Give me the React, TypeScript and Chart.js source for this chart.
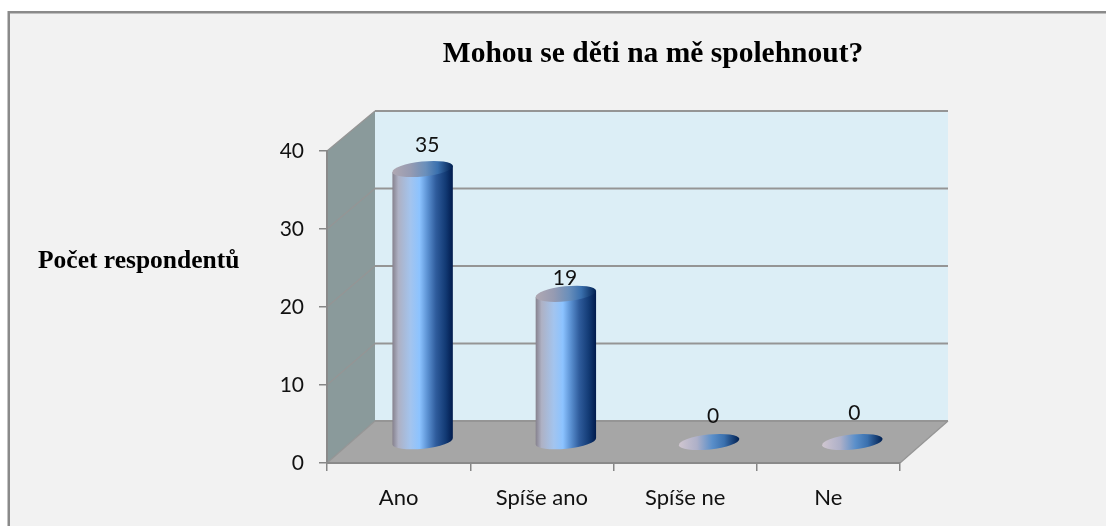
import React, { useEffect, useRef } from "react";
import { Chart, registerables } from "chart.js";

Chart.register(...registerables);

const categories = ["Ano", "Spíše ano", "Spíše ne", "Ne"];
const respondents = [35, 19, 0, 0];
const yTicks = [0, 10, 20, 30, 40];
const chartTitle = "Mohou se děti na mě spolehnout?";
const yAxisTitle = "Počet respondentů";

const DEPTH_X = 48;
const DEPTH_Y = 42;
const BACK_SCALE = 310 / 312;
const ROT = (-6 * Math.PI) / 180;
const RY = 7.5;
const labelNudgeX = [4.5, -1, 4, 2];
const labelNudgeY = [-24, -16, -26, -29];
const SANS = "Lato, 'Open Sans', sans-serif";
const SERIF = "'Liberation Serif', serif";

function bodyGradient(ctx: CanvasRenderingContext2D, l: number, r: number) {
  const g = ctx.createLinearGradient(l, 0, r, 0);
  g.addColorStop(0, "#85808c");
  g.addColorStop(0.1, "#aeb1c4");
  g.addColorStop(0.3, "#a3c4ee");
  g.addColorStop(0.45, "#8cc3ff");
  g.addColorStop(0.58, "#5b91d2");
  g.addColorStop(0.72, "#2f5c9c");
  g.addColorStop(0.88, "#123a74");
  g.addColorStop(1, "#001a4c");
  return g;
}

function capGradient(ctx: CanvasRenderingContext2D, cx: number, rx: number, floor: boolean) {
  const g = ctx.createLinearGradient(cx - rx, 0, cx + rx, 0);
  g.addColorStop(0, floor ? "#d0c6d0" : "#b0a8b2");
  g.addColorStop(0.3, floor ? "#aeb0c8" : "#969bb2");
  g.addColorStop(0.55, floor ? "#5a8fca" : "#6a8fbb");
  g.addColorStop(0.75, "#3a70ae");
  g.addColorStop(1, "#001f50");
  return g;
}

const scene3d = {
  id: "scene3d",
  beforeDraw(chart: any) {
    const { ctx, chartArea: a, scales } = chart;
    const y = scales.y;
    const zero = y.getPixelForValue(0);
    const top = y.getPixelForValue(40);
    const backY = (v: number) => zero - DEPTH_Y + (y.getPixelForValue(v) - zero) * BACK_SCALE;
    ctx.save();
    ctx.fillStyle = "#ffffff";
    ctx.fillRect(0, 0, chart.width, chart.height);
    ctx.fillStyle = "#f2f2f2";
    ctx.fillRect(8, 12, chart.width, chart.height);
    ctx.fillStyle = "#8a8a8a";
    ctx.fillRect(8, 11, chart.width, 2.5);
    ctx.fillRect(7.5, 11, 2.5, chart.height);

    // back wall
    ctx.fillStyle = "#dceef6";
    ctx.fillRect(a.left + DEPTH_X, backY(40), a.right - a.left, backY(0) - backY(40));
    // side wall
    ctx.fillStyle = "#8a9a9b";
    ctx.beginPath();
    ctx.moveTo(a.left, top);
    ctx.lineTo(a.left + DEPTH_X, backY(40));
    ctx.lineTo(a.left + DEPTH_X, backY(0));
    ctx.lineTo(a.left, zero);
    ctx.closePath();
    ctx.fill();
    // floor
    ctx.fillStyle = "#a6a6a6";
    ctx.beginPath();
    ctx.moveTo(a.left, zero);
    ctx.lineTo(a.left + DEPTH_X, backY(0));
    ctx.lineTo(a.right + DEPTH_X, backY(0));
    ctx.lineTo(a.right, zero);
    ctx.closePath();
    ctx.fill();
    // grid lines
    ctx.strokeStyle = "#959595";
    yTicks.forEach((v) => {
      const py = y.getPixelForValue(v);
      ctx.lineWidth = 1.2;
      ctx.beginPath();
      ctx.moveTo(a.left, py);
      ctx.lineTo(a.left + DEPTH_X, backY(v));
      ctx.stroke();
      ctx.lineWidth = 2;
      ctx.beginPath();
      ctx.moveTo(a.left + DEPTH_X, backY(v));
      ctx.lineTo(a.right + DEPTH_X, backY(v));
      ctx.stroke();
    });
    // floor right edge
    ctx.lineWidth = 1.2;
    ctx.beginPath();
    ctx.moveTo(a.right, zero);
    ctx.lineTo(a.right + DEPTH_X, backY(0));
    ctx.stroke();
    ctx.restore();
  },
  afterLayout(chart: any) {
    const t = chart.titleBlock;
    if (t) {
      t.left = 353;
      t.right = 953;
      t.top = 37;
      t.bottom = 71;
    }
  },
  afterDatasetsDraw(chart: any) {
    const { ctx } = chart;
    const meta = chart.getDatasetMeta(0);
    ctx.save();
    meta.data.forEach((bar: any, i: number) => {
      const cx = bar.x + DEPTH_X / 2;
      const base = bar.base - DEPTH_Y / 2;
      const topY = bar.y - DEPTH_Y / 2;
      const rx = bar.width / 2;
      const value = respondents[i];
      if (value > 0) {
        ctx.fillStyle = bodyGradient(ctx, cx - rx, cx + rx);
        const dx = rx * Math.cos(ROT);
        const dy = rx * Math.sin(ROT);
        ctx.beginPath();
        ctx.moveTo(cx - dx, topY - dy);
        ctx.lineTo(cx - dx, base - dy);
        ctx.ellipse(cx, base, rx, RY, ROT, Math.PI, 0, true);
        ctx.lineTo(cx + dx, topY + dy);
        ctx.closePath();
        ctx.fill();
      }
      ctx.fillStyle = capGradient(ctx, cx, rx, value === 0);
      ctx.beginPath();
      ctx.ellipse(cx, topY, rx, RY, ROT, 0, Math.PI * 2);
      ctx.fill();
      ctx.fillStyle = "#111111";
      ctx.font = `21px ${SANS}`;
      ctx.textAlign = "center";
      ctx.textBaseline = "middle";
      ctx.fillText(String(value), cx + labelNudgeX[i], topY + labelNudgeY[i]);
    });
    ctx.fillStyle = "#000000";
    ctx.font = `bold 25.5px ${SERIF}`;
    ctx.textAlign = "left";
    ctx.textBaseline = "middle";
    ctx.fillText(yAxisTitle, 38, 261);
    ctx.restore();
  },
};

export default function App() {
  const ref = useRef<HTMLCanvasElement>(null);
  useEffect(() => {
    const chart = new Chart(ref.current!, {
      type: "bar",
      data: {
        labels: categories,
        datasets: [
          {
            label: yAxisTitle,
            data: respondents,
            backgroundColor: "rgba(0,0,0,0)",
            borderWidth: 0,
            categoryPercentage: 0.424,
            barPercentage: 1,
          },
        ],
      },
      plugins: [scene3d],
      options: {
        responsive: false,
        animation: false,
        events: [],
        layout: { padding: { left: 0, right: 206, top: 115.6, bottom: 0 } },
        plugins: {
          legend: { display: false },
          tooltip: { enabled: false },
          title: {
            display: true,
            text: chartTitle,
            color: "#000000",
            padding: 0,
            font: { family: SERIF, size: 29.5, weight: "bold", lineHeight: 1.2 },
          },
        },
        scales: {
          x: {
            afterFit: (s: any) => {
              s.height = 63;
            },
            grid: {
              offset: true,
              drawOnChartArea: false,
              color: "#868686",
              tickLength: 8,
              lineWidth: 1.5,
            },
            border: { color: "#8a8a8a", width: 2 },
            ticks: {
              color: "#111111",
              padding: 14,
              maxRotation: 0,
              autoSkip: false,
              font: { family: SANS, size: 22 },
            },
          },
          y: {
            min: 0,
            max: 40,
            afterFit: (s: any) => {
              s.width = 327;
            },
            afterBuildTicks: (s: any) => {
              s.ticks = yTicks.map((value) => ({ value }));
            },
            grid: {
              drawOnChartArea: false,
              color: "#868686",
              tickLength: 8,
              lineWidth: 1.5,
            },
            border: { color: "#8a8a8a", width: 2 },
            ticks: {
              color: "#111111",
              padding: 15,
              font: { family: SANS, size: 21 },
            },
          },
        },
      },
    } as any);
    return () => chart.destroy();
  }, []);
  return (
    <div style={{ position: "absolute", left: 0, top: 0 }}>
      <canvas ref={ref} width={1106} height={526} style={{ display: "block" }} />
    </div>
  );
}
